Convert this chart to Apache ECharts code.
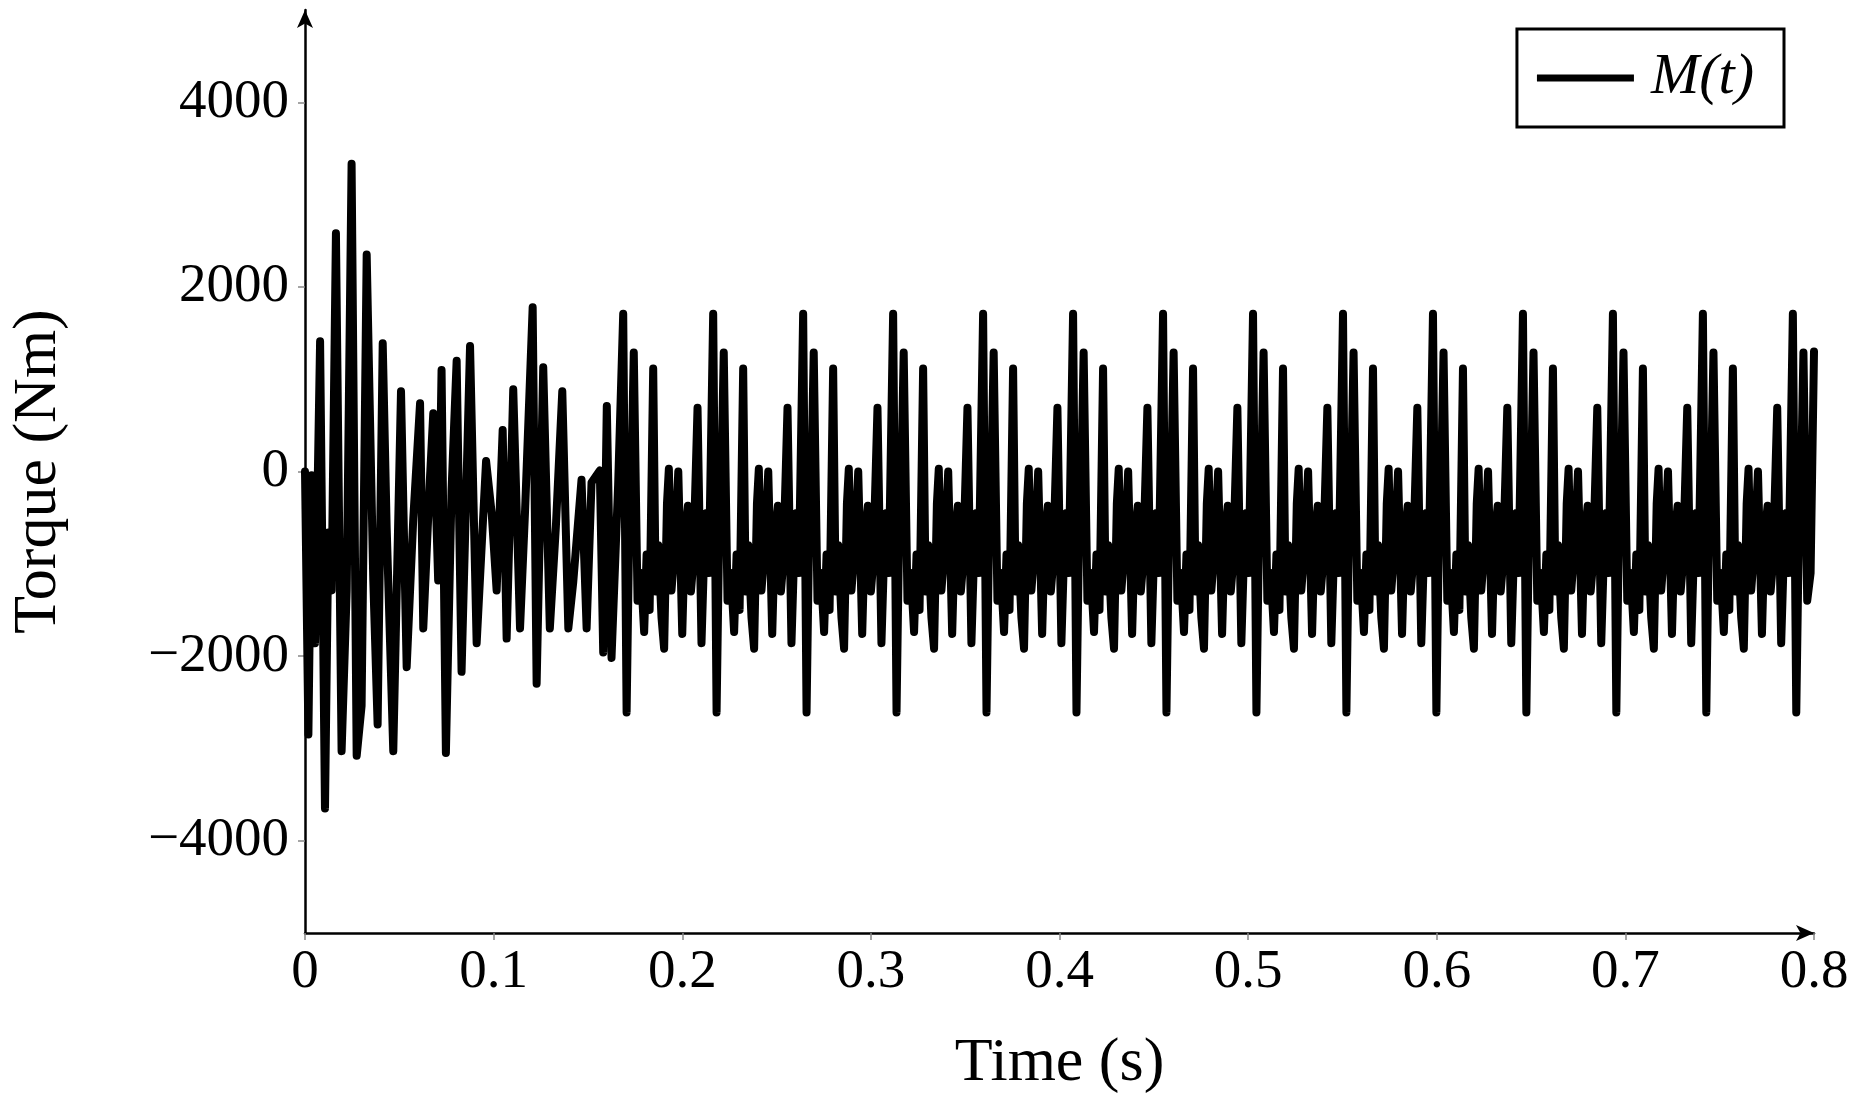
<!DOCTYPE html>
<html><head><meta charset="utf-8">
<script src="https://cdn.jsdelivr.net/npm/echarts@6/dist/echarts.min.js"></script>
<style>html,body{margin:0;padding:0;background:#fff}#c{width:1852px;height:1105px}</style>
</head><body><div id="c"></div>
<script>
// transient part: times (s) and torque (Nm)
var transientT = [0,.0018,.0035,.0053,.008,.0106,.0124,.0141,.0164,.0194,.0221,.0247,.0274,.03,.0327,.0362,.0385,.0412,.0433,.0468,.0509,.0539,.0574,.061,.0627,.0662,.068,.0706,.0724,.0747,.0777,.0804,.083,.0875,.091,.096,.099,.1016,.1048,.1069,.1104,.114,.1166,.1207];
var transientV = [0,-2850,-40,-1860,1410,-3650,-660,-1290,2580,-3030,-1290,3335,-3080,-2540,2350,-1180,-2740,1390,-610,-3030,870,-2120,-510,740,-1700,-90,630,-1180,1100,-3050,-200,1200,-2170,1360,-1860,115,-460,-1290,450,-1810,890,-1700,-460,1780];
var transient2T = [.1228,.1263,.1298,.1330,.1364,.1396,.1422,.1466,.1493,.1519,.1563,.1581,.16,.1625,.166];
var transient2V = [-2300,1130,-1700,-600,870,-1700,-1200,-90,-1700,-120,10,-1960,710,-2020,-150];
// one steady-state cycle: phase (s from big peak) and torque (Nm)
var cyclePeriod = 0.0477;
var cycleStart = 0.1687;
var cyclePhase = [0,.0018,.0030,.0037,.0056,.0076,.0094,.0111,.0124,.0140,.0159,.0172,.0186,.0203,.0217,.0232,.0242,.0256,.0274,.0292,.0313,.0327,.0343,.0359,.0371,.0394,.0415,.0429,.0442,.0454];
var cycleValue = [1710,-2610,-900,-750,1290,-1400,-1100,-1740,-900,-1500,1115,-1300,-800,-1580,-1920,-350,30,-1290,-800,0,-1760,-700,-370,-1300,-1000,690,-1860,-900,-450,-1100];
var endT = 0.8, endV = 1300;

var data = [];
for (var i=0;i<transientT.length;i++) data.push([transientT[i],transientV[i]]);
for (var i=0;i<transient2T.length;i++) data.push([transient2T[i],transient2V[i]]);
for (var k=0;;k++){
  var base = cycleStart + k*cyclePeriod, stop=false;
  for (var j=0;j<cyclePhase.length;j++){
    var t = base + cyclePhase[j];
    if (t >= endT-0.0005){stop=true;break;}
    data.push([+t.toFixed(5), cycleValue[j]]);
  }
  if (stop) break;
}
data.push([endT,endV]);

var xTicks=[0,0.1,0.2,0.3,0.4,0.5,0.6,0.7,0.8];
var yTicks=[-4000,-2000,0,2000,4000];
var font='"Liberation Serif","DejaVu Serif",serif';
var chart = echarts.init(document.getElementById('c'));
chart.setOption({
  animation:false,
  grid:{left:305,right:38,top:10,bottom:172},
  legend:{right:68,top:29,orient:'vertical',padding:[20,30,20,20],borderColor:'#000',borderWidth:3,
    itemWidth:97,itemHeight:7,itemGap:0,icon:'rect',
    textStyle:{fontFamily:font,fontStyle:'italic',fontSize:58,color:'#000',padding:[0,0,0,12]},data:['M(t)']},
  xAxis:{type:'value',min:0,max:0.8,interval:0.1,
    name:'Time (s)',nameLocation:'middle',nameGap:100,
    nameTextStyle:{fontFamily:font,fontSize:62,color:'#000'},
    axisLine:{onZero:false,lineStyle:{color:'#000',width:2.5},symbol:['none','arrow'],symbolSize:[12,18]},
    axisTick:{show:true,length:7,lineStyle:{color:'#888',width:1.5},customValues:xTicks},
    axisLabel:{fontFamily:font,fontSize:55,color:'#000',margin:12,customValues:xTicks,
      formatter:function(v){return String(+v.toFixed(1));}},
    splitLine:{show:false}},
  yAxis:{type:'value',min:-5000,max:5000,
    name:'Torque (Nm)',nameLocation:'middle',nameGap:235,nameRotate:90,
    nameTextStyle:{fontFamily:font,fontSize:62,color:'#000'},
    axisLine:{show:true,onZero:false,lineStyle:{color:'#000',width:2.5},symbol:['none','arrow'],symbolSize:[12,18]},
    axisTick:{show:true,length:7,lineStyle:{color:'#888',width:1.5},customValues:yTicks},
    axisLabel:{fontFamily:font,fontSize:55,color:'#000',margin:16,customValues:yTicks,
      formatter:function(v){return v<0?'\u2212'+(-v):String(v);}},
    splitLine:{show:false}},
  series:[{name:'M(t)',type:'line',data:data,showSymbol:false,
    lineStyle:{color:'#000',width:8,join:'round',cap:'round'},itemStyle:{color:'#000'}}]
});
</script></body></html>
